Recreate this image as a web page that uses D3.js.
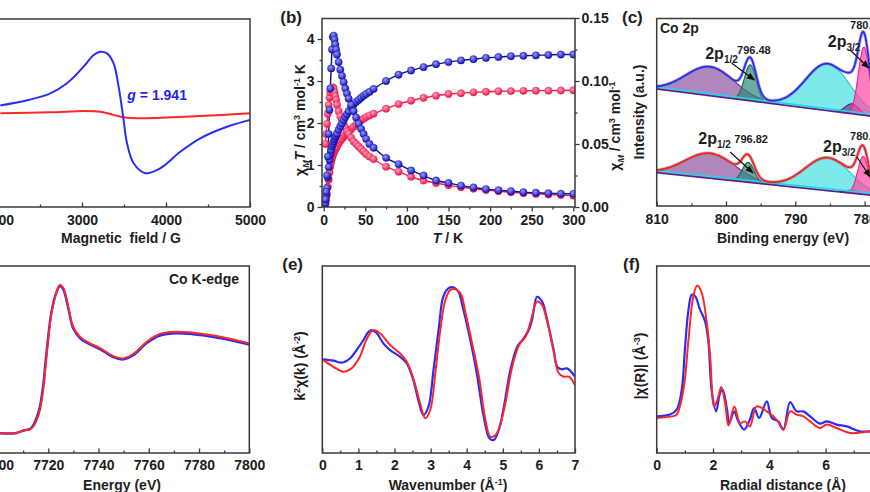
<!DOCTYPE html>
<html><head><meta charset="utf-8">
<script src="https://cdn.jsdelivr.net/npm/d3@7"></script>
<style>
body{margin:0;background:#fff}
text{font-family:Arial,"Liberation Sans",sans-serif;font-weight:bold}
</style></head>
<body><svg id="fig" width="870" height="492"></svg>
<script>
// ---------------- DATA ----------------
// (a) EPR
const epFieldBlue = [2027,2361,2623,2821,3019,3138,3218,3298,3376,3436,3495,3536,3615,3754,3932,4170,4408,4726,5000];
const epBlue = [0.08,0.138,0.209,0.316,0.493,0.617,0.652,0.635,0.529,0.28,-0.074,-0.322,-0.535,-0.641,-0.588,-0.412,-0.269,-0.146,-0.074];
const epFieldRed = [2027,2623,3019,3218,3376,3495,3730,3932,4408,5000];
const epRed = [-0.003,0.007,0.021,0.014,-0.02,-0.046,-0.057,-0.05,-0.032,-0.003];
const epTicks = [2000,3000,4000,5000];

// (b) magnetic susceptibility
const magT = [2,3,4,5,6,7,8,9,10,11,12,13,14,15,16,18,20,22,24,26,28,30,33,36,39,42,45,48,51,55,60,75,90,105,120,135,150,165,180,195,210,225,240,255,270,285,300];
const blueChiT = [0.09,0.25,0.45,0.70,0.95,1.12,1.25,1.35,1.44,1.50,1.56,1.61,1.66,1.70,1.75,1.84,1.92,1.99,2.07,2.14,2.21,2.28,2.37,2.44,2.50,2.55,2.60,2.65,2.69,2.74,2.81,3.00,3.15,3.25,3.33,3.40,3.45,3.49,3.52,3.55,3.57,3.59,3.60,3.61,3.62,3.63,3.63];
const blueChi = [0.006,0.012,0.025,0.040,0.058,0.077,0.094,0.110,0.125,0.135,0.136,0.133,0.129,0.125,0.121,0.115,0.109,0.104,0.099,0.094,0.090,0.086,0.081,0.076,0.071,0.066,0.062,0.058,0.054,0.050,0.047,0.039,0.034,0.029,0.025,0.021,0.019,0.017,0.0155,0.0142,0.0133,0.0125,0.0118,0.0113,0.0109,0.0106,0.0104];
const redChiT = [0.05,0.15,0.30,0.48,0.65,0.82,0.96,1.07,1.15,1.22,1.28,1.33,1.37,1.41,1.44,1.51,1.57,1.62,1.67,1.71,1.75,1.79,1.85,1.91,1.96,2.01,2.06,2.10,2.14,2.18,2.22,2.34,2.45,2.53,2.60,2.65,2.69,2.71,2.73,2.745,2.755,2.76,2.765,2.77,2.77,2.775,2.78];
const redChi = [0.050,0.058,0.066,0.074,0.081,0.087,0.091,0.093,0.0945,0.095,0.094,0.091,0.088,0.085,0.081,0.076,0.072,0.069,0.066,0.063,0.060,0.058,0.055,0.052,0.050,0.048,0.046,0.044,0.042,0.040,0.038,0.032,0.028,0.024,0.021,0.019,0.0172,0.0157,0.0145,0.0134,0.0125,0.0117,0.011,0.0104,0.0099,0.0095,0.0090];
const magTTicks = [0,50,100,150,200,250,300];
const magLeftTicks = [0,1,2,3,4];
const magRightTicks = [0,0.05,0.10,0.15];

// (c) XPS Co 2p fitted components: satellite, 2p1/2, satellite, 2p3/2 shoulder, 2p3/2
const xpsTopCenter = [802.3,796.5,785.3,781.8,780.1];
const xpsTopHeight = [29,36,47,10,68];
const xpsTopSigma  = [3.5,0.85,3.2,1.0,0.8];
const xpsTopBase   = [117,81.8];   // background at 810 eV and 770 eV
const xpsBotCenter = [802.3,796.8,785.3,781.8,780.2];
const xpsBotHeight = [25,20,33,3,38];
const xpsBotSigma  = [3.6,0.85,3.3,1.0,0.8];
const xpsBotBase   = [33.3,4.1];
const xpsTicks = [810,800,790,780];

// (d) XANES
const xanE = [7700.8,7706.7,7708.7,7710.7,7712.7,7714.0,7715.4,7716.7,7718.0,7719.3,7721.3,7723.3,7724.6,7726.0,7728.0,7729.9,7732.6,7736.6,7740.6,7745.9,7749.8,7753.8,7759.2,7764.4,7771.1,7777.7,7787.0,7800];
const xanRed  = [0,0,0.018,0.036,0.043,0.071,0.143,0.251,0.466,0.82,1.29,1.52,1.595,1.563,1.362,1.147,1.04,0.968,0.917,0.831,0.806,0.853,0.985,1.068,1.093,1.082,1.046,0.967];
const xanBlue = [0,0,0.015,0.033,0.045,0.085,0.17,0.29,0.52,0.87,1.31,1.52,1.585,1.545,1.34,1.13,1.025,0.955,0.905,0.82,0.795,0.84,0.97,1.05,1.075,1.065,1.03,0.955];
const xanTicks = [7700,7720,7740,7760,7780,7800];

// (e) EXAFS k-space
const kBlue = [0,0.31,0.54,0.77,0.95,1.14,1.28,1.37,1.51,1.69,1.88,2.15,2.34,2.52,2.66,2.80,2.94,3.08,3.22,3.35,3.49,3.63,3.77,3.91,4.10,4.28,4.47,4.63,4.75,4.89,5.03,5.21,5.40,5.58,5.72,5.81,5.95,6.09,6.23,6.41,6.51,6.64,6.78,7.0];
const kChiBlue = [-0.03,-0.10,-0.21,0.03,0.49,1.05,1.51,1.60,1.42,0.86,0.49,0.12,-0.25,-1.17,-2.29,-3.12,-2.66,-0.62,1.60,3.45,3.92,3.98,3.73,2.71,1.05,-0.80,-3.21,-4.41,-4.51,-3.95,-2.66,-0.62,0.68,1.14,1.60,2.16,3.45,3.18,2.16,0.49,-0.44,-0.58,-0.53,-0.99];
const kRed = [0,0.31,0.58,0.81,1.04,1.22,1.41,1.60,1.88,2.15,2.34,2.52,2.71,2.85,2.99,3.13,3.27,3.41,3.55,3.69,3.83,3.97,4.15,4.34,4.52,4.66,4.80,4.94,5.08,5.26,5.45,5.63,5.77,5.95,6.09,6.23,6.41,6.55,6.69,6.83,7.0];
const kChiRed = [-0.03,-0.44,-0.71,-0.53,0.12,1.05,1.60,1.42,0.77,0.31,-0.16,-1.08,-2.47,-3.30,-2.84,-0.80,1.60,3.27,3.83,3.86,3.64,2.53,0.86,-0.99,-3.40,-4.33,-4.23,-3.58,-2.38,-0.44,0.77,1.23,2.06,3.18,2.99,2.06,0.40,-0.80,-0.99,-0.99,-1.45];
const kTicks = [0,1,2,3,4,5,6,7];

// (f) EXAFS R-space
const rBlue = [0,0.47,0.71,0.89,1.01,1.13,1.25,1.37,1.54,1.72,1.84,1.95,2.11,2.25,2.34,2.49,2.58,2.75,2.90,3.11,3.31,3.46,3.64,3.91,4.09,4.32,4.50,4.74,4.97,5.21,5.45,5.80,6.04,6.39,6.75,7.22,7.58,8.0];
const ftBlue = [1.83,1.92,2.17,3.17,5.33,7.17,7.92,7.83,7.17,6.58,5.5,3.17,2.08,3.0,3.17,2.25,1.5,2.08,1.58,1.17,1.67,2.25,1.75,2.58,1.75,1.58,1.17,2.55,2.08,2.08,1.83,1.47,1.58,1.42,1.33,1.08,1.08,1.0];
const rRed = [0,0.53,0.71,0.95,1.13,1.30,1.44,1.60,1.78,1.90,2.04,2.16,2.29,2.43,2.55,2.76,2.96,3.14,3.31,3.55,3.91,4.26,4.50,4.74,4.97,5.21,5.45,5.80,6.04,6.39,6.87,7.58,8.0];
const ftRed = [1.75,1.83,1.92,3.17,5.67,7.83,8.37,8.0,6.5,4.83,2.33,2.67,3.3,2.5,1.37,2.33,1.5,1.58,1.33,2.33,2.08,1.67,1.17,2.08,1.92,1.83,1.58,1.25,1.42,1.25,1.0,1.08,1.08];
const rTicks = [0,2,4,6,8];

// ---------------- STYLE ----------------
const BLUE = "#2b2bff", RED = "#ff2626", FRAME = "#3a3a3a", TXT = "#1e1e1e";
const xpsFill = ["#8f5aa3","#2f8c7c","#49e2e2","#6b3b9c","#ff4aa6"];
const xpsLine = ["#6b2c86","#1d6055","#1fc8cf","#55207f","#ff1a8c"];

const svg = d3.select("#fig");
const defs = svg.append("defs");
function grad(id, c0, c1){
  const g = defs.append("radialGradient").attr("id", id).attr("cx","40%").attr("cy","35%").attr("r","65%");
  g.append("stop").attr("offset","0%").attr("stop-color", c0);
  g.append("stop").attr("offset","100%").attr("stop-color", c1);
}
grad("gBlue", "#9a9aff", "#0b0bb8");
grad("gRed", "#ffa3c0", "#e8104e");
defs.append("marker").attr("id","arr").attr("viewBox","0 0 10 10").attr("refX",9).attr("refY",5)
  .attr("markerWidth",7).attr("markerHeight",7).attr("orient","auto")
  .append("path").attr("d","M0,1 L10,5 L0,9 z").attr("fill","#111");

function clip(id, x0, y0, x1, y1){
  defs.append("clipPath").attr("id", id).append("rect").attr("x",x0).attr("y",y0).attr("width",x1-x0).attr("height",y1-y0);
  return `url(#${id})`;
}
function frame(x0,y0,x1,y1){
  svg.append("rect").attr("x",x0).attr("y",y0).attr("width",x1-x0).attr("height",y1-y0)
    .attr("fill","none").attr("stroke",FRAME).attr("stroke-width",1.5);
}
function styleAxis(g){
  g.select(".domain").remove();
  g.selectAll("line").attr("stroke",FRAME).attr("stroke-width",1.3);
  g.selectAll("text").attr("font-size",14).attr("font-weight","bold").attr("fill",TXT)
    .attr("font-family","Arial, 'Liberation Sans', sans-serif");
}
function bottomAxis(scale, y, major, minor, inward, pad, fmt){
  const g = svg.append("g").attr("transform",`translate(0,${y})`);
  g.call(d3.axisBottom(scale).tickValues(major).tickSize(inward?-4.5:4.5).tickPadding(pad).tickFormat(fmt||d3.format("d")));
  styleAxis(g);
  const m = svg.append("g").attr("transform",`translate(0,${y})`);
  m.call(d3.axisBottom(scale).tickValues(minor).tickSize(inward?-2.5:2.5).tickFormat(""));
  styleAxis(m);
}
function rich(x, y, parts, o){
  const t = svg.append("text").attr("x",x).attr("y",y).attr("font-size",o.size||14)
    .attr("text-anchor",o.anchor||"start").attr("fill",o.fill||TXT);
  if (o.rotate) t.attr("transform",`rotate(-90,${x},${y})`);
  if (o.weight) t.attr("font-weight",o.weight);
  let cur = 0;
  parts.forEach(p => {
    const s = t.append("tspan").text(p.t);
    const sh = p.sh || 0;
    if (sh !== cur) { s.attr("dy", sh - cur); cur = sh; }
    if (p.fs) s.attr("font-size", p.fs);
    if (p.it) s.attr("font-style","italic");
  });
  return t;
}
function pathLine(data, x, y, color, w, cp, curve){
  svg.append("path").datum(data).attr("clip-path",cp)
    .attr("d", d3.line().x(d=>x(d[0])).y(d=>y(d[1])).curve(curve||d3.curveCatmullRom.alpha(0.5)))
    .attr("fill","none").attr("stroke",color).attr("stroke-width",w).attr("stroke-linejoin","round");
}
const zip = (a,b) => a.map((v,i)=>[v,b[i]]);

// ---------------- (a) EPR ----------------
{
  const x = d3.scaleLinear([2000,5000],[-2,250]);
  const y = d3.scaleLinear([-1,1],[207,19]);
  const cp = clip("ca",-2,19,250,207);
  pathLine(zip(epFieldRed,epRed), x, y, RED, 2, cp);
  pathLine(zip(epFieldBlue,epBlue), x, y, BLUE, 2, cp);
  frame(-2,19,250,207);
  bottomAxis(x, 207, epTicks, [2500,3500,4500], true, 8);
  rich(x(3540), y(0.14), [{t:"g",it:true},{t:" = 1.941"}], {size:14, fill:"#2424f0"});
  rich(121, 243, [{t:"Magnetic  field / G"}], {anchor:"middle"}).attr("xml:space","preserve").style("white-space","pre");
}

// ---------------- (b) magnetism ----------------
{
  const x = d3.scaleLinear([-2,302],[322,575]);
  const yl = d3.scaleLinear([0,4.5],[207,18]);
  const yr = d3.scaleLinear([0,0.15],[207,18]);
  const cp = clip("cb",322,18,575,207);
  const series = [
    {v:redChiT, y:yl, c:"#ff1f3d", g:"url(#gRed)"},
    {v:redChi, y:yr, c:"#ff1f3d", g:"url(#gRed)"},
    {v:blueChiT, y:yl, c:"#10108a", g:"url(#gBlue)"},
    {v:blueChi, y:yr, c:"#10108a", g:"url(#gBlue)"}
  ];
  series.forEach(s => pathLine(zip(magT,s.v), x, s.y, s.c, 1.4, cp, d3.curveMonotoneX));
  series.forEach(s => {
    svg.append("g").attr("clip-path",cp).selectAll("circle").data(zip(magT,s.v)).join("circle")
      .attr("cx",d=>x(d[0])).attr("cy",d=>s.y(d[1])).attr("r",3.7)
      .attr("fill",s.g).attr("stroke",s.c).attr("stroke-width",0.6).attr("stroke-opacity",0.6);
  });
  frame(322,18.5,575,207);
  bottomAxis(x, 207, magTTicks, [25,75,125,175,225,275], false, 4);
  const gl = svg.append("g").attr("transform","translate(322,0)");
  gl.call(d3.axisLeft(yl).tickValues(magLeftTicks).tickSize(4.5).tickPadding(3).tickFormat(d3.format("d"))); styleAxis(gl);
  const gl2 = svg.append("g").attr("transform","translate(322,0)");
  gl2.call(d3.axisLeft(yl).tickValues([0.5,1.5,2.5,3.5]).tickSize(2.5).tickFormat("")); styleAxis(gl2);
  const gr = svg.append("g").attr("transform","translate(575,0)");
  gr.call(d3.axisRight(yr).tickValues(magRightTicks).tickSize(4.5).tickPadding(2).tickFormat(d3.format(".2f"))); styleAxis(gr);
  const gr2 = svg.append("g").attr("transform","translate(575,0)");
  gr2.call(d3.axisRight(yr).tickValues([0.025,0.075,0.125]).tickSize(2.5).tickFormat("")); styleAxis(gr2);
  rich(305, 120, [{t:"χ"},{t:"M",fs:9,sh:4,it:true},{t:"T",it:true},{t:" / cm"},{t:"3",fs:9,sh:-5},{t:" mol"},{t:"-1",fs:9,sh:-5},{t:" K"}], {rotate:true, anchor:"middle"});
  rich(620, 126, [{t:"χ"},{t:"M",fs:9,sh:4,it:true},{t:" / cm"},{t:"3",fs:9,sh:-5},{t:" mol"},{t:"-1",fs:9,sh:-5}], {rotate:true, anchor:"middle"});
  rich(448, 243, [{t:"T",it:true},{t:" / K"}], {anchor:"middle"});
  rich(302, 23, [{t:"(b)"}], {size:17, anchor:"end"});
}

// ---------------- (c) XPS ----------------
{
  const x = d3.scaleLinear([810,770],[656.7,933.9]);
  const y = d3.scaleLinear([0,188],[206,18]);
  const cp = clip("cc",656.7,18.5,900,206);
  const grid = d3.range(810, 769.95, -0.1);
  const gauss = (E,c,h,s) => h*Math.exp(-((E-c)*(E-c))/(2*s*s));
  function spectrum(cen, hei, sig, bs, envColor){
    const base = E => bs[0] + (bs[1]-bs[0])*(810-E)/40;
    cen.forEach((c,i)=>{
      svg.append("path").datum(grid).attr("clip-path",cp)
        .attr("d", d3.area().x(E=>x(E)).y0(E=>y(base(E))).y1(E=>y(base(E)+gauss(E,c,hei[i],sig[i]))))
        .attr("fill",xpsFill[i]).attr("fill-opacity",0.72);
      const seg = grid.filter(E=>gauss(E,c,hei[i],sig[i])>0.4);
      svg.append("path").datum(seg).attr("clip-path",cp)
        .attr("d", d3.line().x(E=>x(E)).y(E=>y(base(E)+gauss(E,c,hei[i],sig[i]))))
        .attr("fill","none").attr("stroke",xpsLine[i]).attr("stroke-width",1.1);
    });
    svg.append("path").datum(grid).attr("clip-path",cp)
      .attr("d", d3.line().x(E=>x(E)).y(E=>y(base(E)+2)))
      .attr("fill","none").attr("stroke","#27d3e3").attr("stroke-width",1.6);
    svg.append("path").datum(grid).attr("clip-path",cp)
      .attr("d", d3.line().x(E=>x(E)).y(E=>y(base(E))))
      .attr("fill","none").attr("stroke","#5b1c8c").attr("stroke-width",1.6);
    const env = E => base(E) + cen.reduce((s,c,i)=>s+gauss(E,c,hei[i],sig[i]),0);
    svg.append("path").datum(grid).attr("clip-path",cp)
      .attr("d", d3.line().x(E=>x(E)).y(E=>y(env(E))))
      .attr("fill","none").attr("stroke","#8a8a8a").attr("stroke-width",3.4).attr("stroke-opacity",0.6);
    svg.append("path").datum(grid).attr("clip-path",cp)
      .attr("d", d3.line().x(E=>x(E)).y(E=>y(env(E))))
      .attr("fill","none").attr("stroke",envColor).attr("stroke-width",1.8);
  }
  spectrum(xpsTopCenter, xpsTopHeight, xpsTopSigma, xpsTopBase, "#2a2aff");
  spectrum(xpsBotCenter, xpsBotHeight, xpsBotSigma, xpsBotBase, "#ff2020");
  frame(656.7,18.5,900,206);
  bottomAxis(x, 206, xpsTicks, [805,795,785,775], true, 8);
  // annotations
  const arrow = (e0,v0,e1,v1) => svg.append("line").attr("x1",x(e0)).attr("y1",y(v0)).attr("x2",x(e1)).attr("y2",y(v1))
      .attr("stroke","#111").attr("stroke-width",1.2).attr("marker-end","url(#arr)");
  const p = (E,v,sub) => rich(x(E), y(v), [{t:"2p"},{t:sub,fs:10,sh:4}], {size:16});
  const num = (E,v,s) => rich(x(E), y(v), [{t:s}], {size:11, weight:"normal"});
  p(803.0,147,"1/2"); num(798.4,152,"796.48"); arrow(799.2,143,795.9,126);
  p(785.3,159,"3/2"); num(782.1,177,"780.35"); arrow(782.1,156,779.4,138);
  p(804.0,62,"1/2"); num(798.8,63,"796.82"); arrow(799.4,54,796.1,33);
  p(786.0,54,"3/2"); num(782.1,66,"780.58"); arrow(781.1,49,779.2,29);
  rich(660, 33, [{t:"Co 2p"}], {size:14});
  rich(644, 112, [{t:"Intensity (a.u.)"}], {rotate:true, anchor:"middle"});
  rich(783, 243, [{t:"Binding energy (eV)"}], {anchor:"middle"});
  rich(622, 23, [{t:"(c)"}], {size:17});
}

// ---------------- (d) XANES ----------------
{
  const x = d3.scaleLinear([7700,7800],[-2,249.3]);
  const y = d3.scaleLinear([-0.212,1.80],[453,266]);
  const cp = clip("cd",-2,266,249.3,453);
  pathLine(zip(xanE,xanBlue), x, y, BLUE, 2.4, cp);
  pathLine(zip(xanE,xanRed), x, y, RED, 2, cp);
  frame(-2,266,249.3,453);
  bottomAxis(x, 453, xanTicks, [7710,7730,7750,7770,7790], true, 7);
  rich(239, 284, [{t:"Co K-edge"}], {anchor:"end"});
  rich(122, 490, [{t:"Energy (eV)"}], {anchor:"middle"});
}

// ---------------- (e) k-space ----------------
{
  const x = d3.scaleLinear([0,7],[322.3,575]);
  const y = d3.scaleLinear([-5.23,5.16],[453,266]);
  const cp = clip("ce",322.3,266,575,453);
  pathLine(zip(kBlue,kChiBlue), x, y, BLUE, 2.2, cp);
  pathLine(zip(kRed,kChiRed), x, y, RED, 2, cp);
  frame(322.3,266,575,453);
  bottomAxis(x, 453, kTicks, [0.5,1.5,2.5,3.5,4.5,5.5,6.5], true, 7);
  rich(305, 366, [{t:"k"},{t:"2",fs:9,sh:-5},{t:"χ"},{t:"(k) (Å"},{t:"-2",fs:9,sh:-5},{t:")"}], {rotate:true, anchor:"middle"});
  rich(448, 490, [{t:"Wavenumber (Å"},{t:"-1",fs:9,sh:-5},{t:")"}], {anchor:"middle"});
  rich(303, 270, [{t:"(e)"}], {size:17, anchor:"end"});
}

// ---------------- (f) R-space ----------------
{
  const x = d3.scaleLinear([0,8],[656.7,881.9]);
  const y = d3.scaleLinear([0,9.35],[453,266]);
  const cp = clip("cf",656.7,266,900,453);
  pathLine(zip(rBlue,ftBlue), x, y, BLUE, 2.2, cp);
  pathLine(zip(rRed,ftRed), x, y, RED, 2, cp);
  frame(656.7,266,900,453);
  bottomAxis(x, 453, rTicks, [1,3,5,7], true, 7);
  rich(645, 366, [{t:"|χ(R)| (Å"},{t:"-3",fs:9,sh:-5},{t:")"}], {rotate:true, anchor:"middle"});
  rich(783, 490, [{t:"Radial distance (Å)"}], {anchor:"middle"});
  rich(623, 270, [{t:"(f)"}], {size:17});
}
</script></body></html>
